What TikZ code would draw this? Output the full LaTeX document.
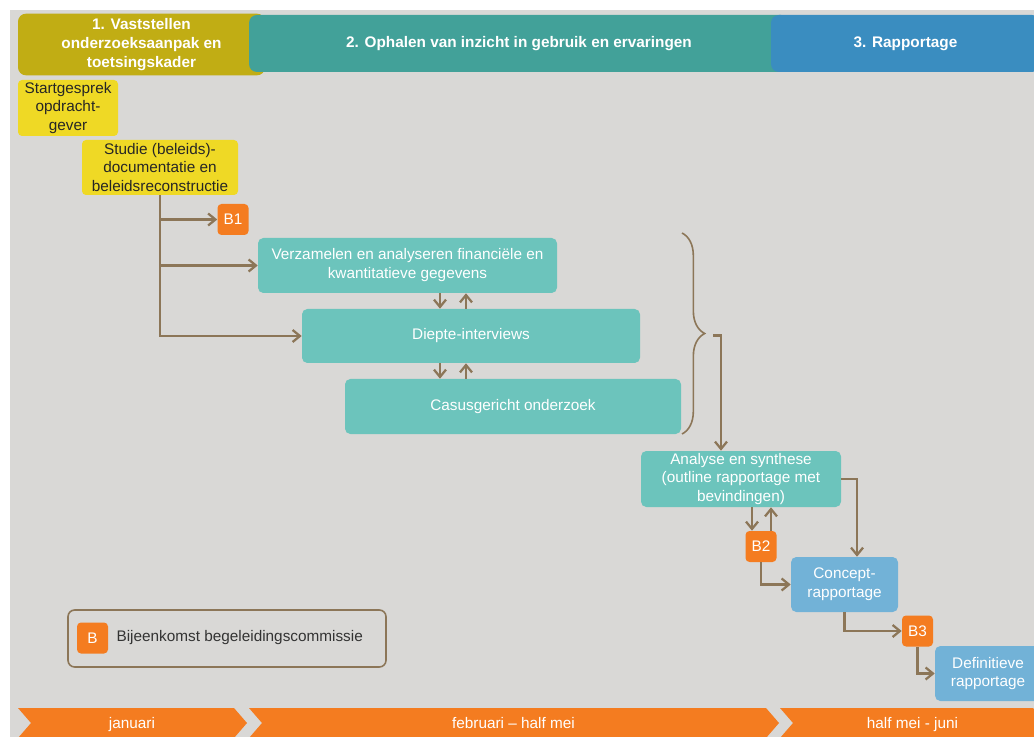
\documentclass[tikz,border=0pt]{standalone}
\usepackage{fontspec}
\setmainfont{Liberation Sans}
\usetikzlibrary{positioning,arrows.meta,decorations.pathreplacing}

\definecolor{achtergrond}{HTML}{D9D8D6}
\definecolor{fase1}{HTML}{C1AD14}
\definecolor{fase2}{HTML}{42A199}
\definecolor{fase3}{HTML}{3A8DC0}
\definecolor{geelvak}{HTML}{EFD925}
\definecolor{groenvak}{HTML}{6CC4BC}
\definecolor{blauwvak}{HTML}{72B2D7}
\definecolor{oranje}{HTML}{F47C20}
\definecolor{bruin}{HTML}{8C7658}

\tikzset{
  vak/.style={rounded corners=3pt, inner sep=1pt, align=center,
    font=\fontsize{11.5}{14.2}\selectfont},
  geel/.style={vak, fill=geelvak, text=black!85},
  groen/.style={vak, fill=groenvak, text=white, rounded corners=4pt},
  blauw/.style={vak, fill=blauwvak, text=white, rounded corners=4pt},
  bvak/.style={vak, fill=oranje, text=white, minimum width=23.25pt, minimum height=23.25pt},
  fase/.style={rounded corners=6pt, minimum height=42.75pt, text=white, align=center,
    font=\bfseries\fontsize{11.5}{14.4}\selectfont},
  pijl/.style={draw=bruin, line width=1.7pt, -{Straight Barb[length=5.5pt,width=9pt]}}
}

\begin{document}
\begin{tikzpicture}[x=0.75pt,y=-0.75pt]
\clip (0,0) rectangle (1034,737);
\fill[achtergrond] (10,10) rectangle (1034,737);

% fasen bovenaan
\node[fase, fill=fase1, minimum width=185.25pt] (fase1) at (141.5,44.5)
  {1. Vaststellen\\onderzoeksaanpak en\\toetsingskader};
\node[fase, fill=fase2, minimum width=405pt] (fase2) at (519,43.5)
  {2. Ophalen van inzicht in gebruik en ervaringen};
\node[fase, fill=fase3, minimum width=201.75pt] (fase3) at (905.5,43.5)
  {3. Rapportage};

% tijdlijn onderaan
\foreach \a/\b/\naam/\tekst in {18/234/jan/januari, 249/766/feb/februari -- half mei, 780/1033/mei/half mei - juni}
{
  \fill[oranje] (\a,708) -- (\b,708) -- (\b+13,723) -- (\b,738) -- (\a,738) -- (\a+13,723) -- cycle;
  \node[text=white, font=\fontsize{11.5}{14}\selectfont, text height=8.5pt, text depth=2pt]
    (\naam) at ({(\a+\b)/2+6},724) {\tekst};
}

% fase 1
\node[geel, minimum width=75pt, minimum height=42pt] (start) at (68,108)
  {Startgesprek\\opdracht-\\gever};
\node[geel, minimum width=117pt, minimum height=41.25pt] (studie) at (160,167.5)
  {Studie (beleids)-\\documentatie en\\beleidsreconstructie};
\node[bvak] (b1) at (233,219.5) {B1};

% fase 2
\node[groen, minimum width=224.25pt, minimum height=41.25pt] (verzamelen) at (407.5,265.5)
  {Verzamelen en analyseren financiële en\\kwantitatieve gegevens};
\node[groen, minimum width=253.5pt, minimum height=40.5pt] (diepte) at (471,336)
  {Diepte-interviews};
\node[groen, minimum width=252pt, minimum height=41.25pt] (casus) at (513,406.5)
  {Casusgericht onderzoek};
\node[groen, minimum width=150pt, minimum height=42pt] (analyse) at (741,479)
  {Analyse en synthese\\(outline rapportage met\\bevindingen)};
\node[bvak] (b2) at (761,546.5) {B2};

% fase 3
\node[blauw, minimum width=80.25pt, minimum height=41.25pt] (concept) at (844.5,584.5)
  {Concept-\\rapportage};
\node[bvak] (b3) at (917.5,631) {B3};
\node[blauw, minimum width=79.5pt, minimum height=41.25pt] (definitief) at (988,673.5)
  {Definitieve\\rapportage};

% legenda
\node[draw=bruin, line width=1.2pt, rounded corners=5pt, minimum width=238.5pt,
  minimum height=42.75pt] (legenda) at (227,638.5) {};
\node[bvak] (bleg) at (92.5,638) {B};
\node[vak, anchor=west, text=black!80] (legtekst) at (115,638) {Bijeenkomst begeleidingscommissie};

% pijlen
\draw[pijl] (studie.south) |- (diepte.west);
\draw[pijl] (studie.south |- b1.west) -- (b1.west);
\draw[pijl] (studie.south |- verzamelen.west) -- (verzamelen.west);
\coordinate (neer) at (440,0);
\coordinate (op) at (466,0);
\foreach \boven/\onder in {verzamelen/diepte, diepte/casus}
{
  \draw[pijl] (neer |- \boven.south) -- (neer |- \onder.north);
  \draw[pijl] (op |- \onder.north) -- (op |- \boven.south);
}
\draw[bruin, line width=1.2pt, decorate, decoration={brace, amplitude=17pt}]
  (682,233) -- (682,434);
\coordinate (accolade) at (713,335.5);
\draw[pijl] (accolade) -| ([xshift=-15pt]analyse.north);
\draw[pijl] (analyse.east) -| ([xshift=9.4pt]concept.north);
\draw[pijl] ([xshift=-6.75pt]b2.north |- analyse.south) -- ([xshift=-6.75pt]b2.north);
\draw[pijl] ([xshift=7.5pt]b2.north) -- ([xshift=7.5pt]b2.north |- analyse.south);
\draw[pijl] (b2.south) |- (concept.west);
\draw[pijl] (concept.south) |- (b3.west);
\draw[pijl] (b3.south) |- (definitief.west);
\end{tikzpicture}
\end{document}
